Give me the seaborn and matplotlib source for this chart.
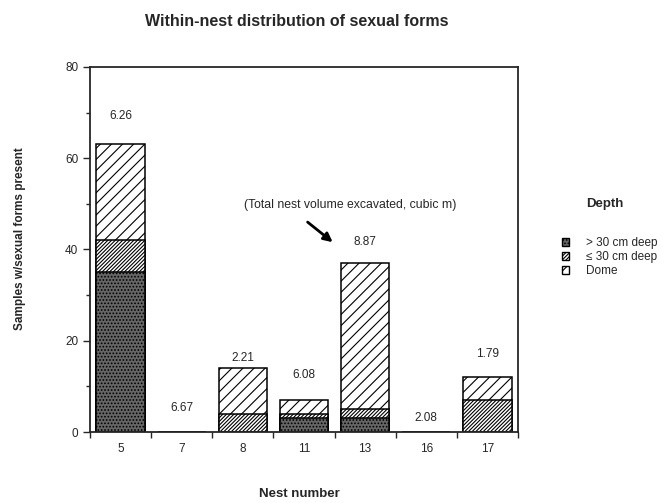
"""
Within-nest distribution of sexual forms, stacked by depth
"""
import matplotlib
matplotlib.use('Agg')
import matplotlib.pyplot as plt
from matplotlib.patches import Patch
from matplotlib.ticker import FixedLocator, MultipleLocator
import seaborn as sns
import numpy as np

# data
nests = ['5', '7', '8', '11', '13', '16', '17']
deep = np.array([35, 0, 0, 3, 3, 0, 0])        # > 30 cm deep
shallow = np.array([7, 0, 4, 1, 2, 0, 7])      # <= 30 cm deep
dome = np.array([21, 0, 10, 3, 32, 0, 5])      # dome
volumes = ['6.26', '6.67', '2.21', '6.08', '8.87', '2.08', '1.79']
volume_y = [69.2, 5.3, 16.3, 12.6, 41.6, 3.1, 17.0]

sns.set_style('ticks')
plt.rcParams['font.family'] = ['Liberation Sans', 'DejaVu Sans']
plt.rcParams['hatch.linewidth'] = 0.8

DOME_HATCH = '///'
SHALLOW_HATCH = '/////////'
DEEP_HATCH = '.....'
DEEP_COLOR = '#666666'

fig = plt.figure(figsize=(6.64, 5.03), dpi=100)
ax = fig.add_axes([0.1355, 0.141, 0.6445, 0.726])

bar_kw = dict(order=nests, width=0.79, saturation=1, edgecolor='black',
              linewidth=1.1, ax=ax)
# overlay cumulative totals, tallest first
sns.barplot(x=nests, y=deep + shallow + dome, color='white', hatch=DOME_HATCH, **bar_kw)
sns.barplot(x=nests, y=deep + shallow, color='white', hatch=SHALLOW_HATCH, **bar_kw)
sns.barplot(x=nests, y=deep, color=DEEP_COLOR, hatch=DEEP_HATCH, **bar_kw)

for i, (txt, yy) in enumerate(zip(volumes, volume_y)):
    ax.text(i, yy, txt, ha='center', va='center', fontsize=8.5)

ax.text(3.75, 49.75, '(Total nest volume excavated, cubic m)',
        ha='center', va='center', fontsize=8.8)
ax.annotate('', xy=(3.47, 41.6), xytext=(3.06, 46.0),
            arrowprops=dict(arrowstyle='-|>', color='black', lw=2,
                            mutation_scale=13, shrinkA=0, shrinkB=0))

ax.set_xlim(-0.5, len(nests) - 0.5)
ax.set_ylim(0, 80)
ax.yaxis.set_major_locator(MultipleLocator(20))
ax.yaxis.set_minor_locator(MultipleLocator(10))
ax.xaxis.set_major_locator(FixedLocator(np.arange(len(nests) + 1) - 0.5))
ax.xaxis.set_minor_locator(FixedLocator(np.arange(len(nests))))
ax.set_xticklabels([])
ax.set_xticklabels(nests, minor=True)
ax.tick_params(axis='x', which='major', length=4, width=1)
ax.tick_params(axis='x', which='minor', length=0, pad=8, labelsize=8.5)
ax.tick_params(axis='y', which='major', length=5, width=1, labelsize=8.5)
ax.tick_params(axis='y', which='minor', length=3, width=1)
for sp in ax.spines.values():
    sp.set_visible(True)
    sp.set_linewidth(1.3)

ax.set_xlabel('Nest number', fontsize=9.5, fontweight='bold')
ax.xaxis.set_label_coords(0.49, -0.153)
ax.set_ylabel('Samples w/sexual forms present', fontsize=8.5, fontweight='bold')
ax.yaxis.set_label_coords(-0.15, 0.53)
fig.text(0.4466, 0.958, 'Within-nest distribution of sexual forms',
         ha='center', va='center', fontsize=11.5, fontweight='bold')

handles = [
    Patch(facecolor=DEEP_COLOR, edgecolor='black', hatch=DEEP_HATCH, label='> 30 cm deep'),
    Patch(facecolor='white', edgecolor='black', hatch=SHALLOW_HATCH, label='\u2264 30 cm deep'),
    Patch(facecolor='white', edgecolor='black', hatch=DOME_HATCH, label='Dome'),
]
fig.text(0.911, 0.594, 'Depth', ha='center', va='center', fontsize=9.5,
         fontweight='bold')
fig.legend(handles=handles, loc='upper left', bbox_to_anchor=(0.846, 0.529),
           frameon=False, fontsize=8.5, handlelength=0.65, handleheight=0.65,
           handletextpad=1.4, labelspacing=0.18, borderpad=0, borderaxespad=0)

fig.savefig('out.png', dpi=100)
plt.close(fig)
